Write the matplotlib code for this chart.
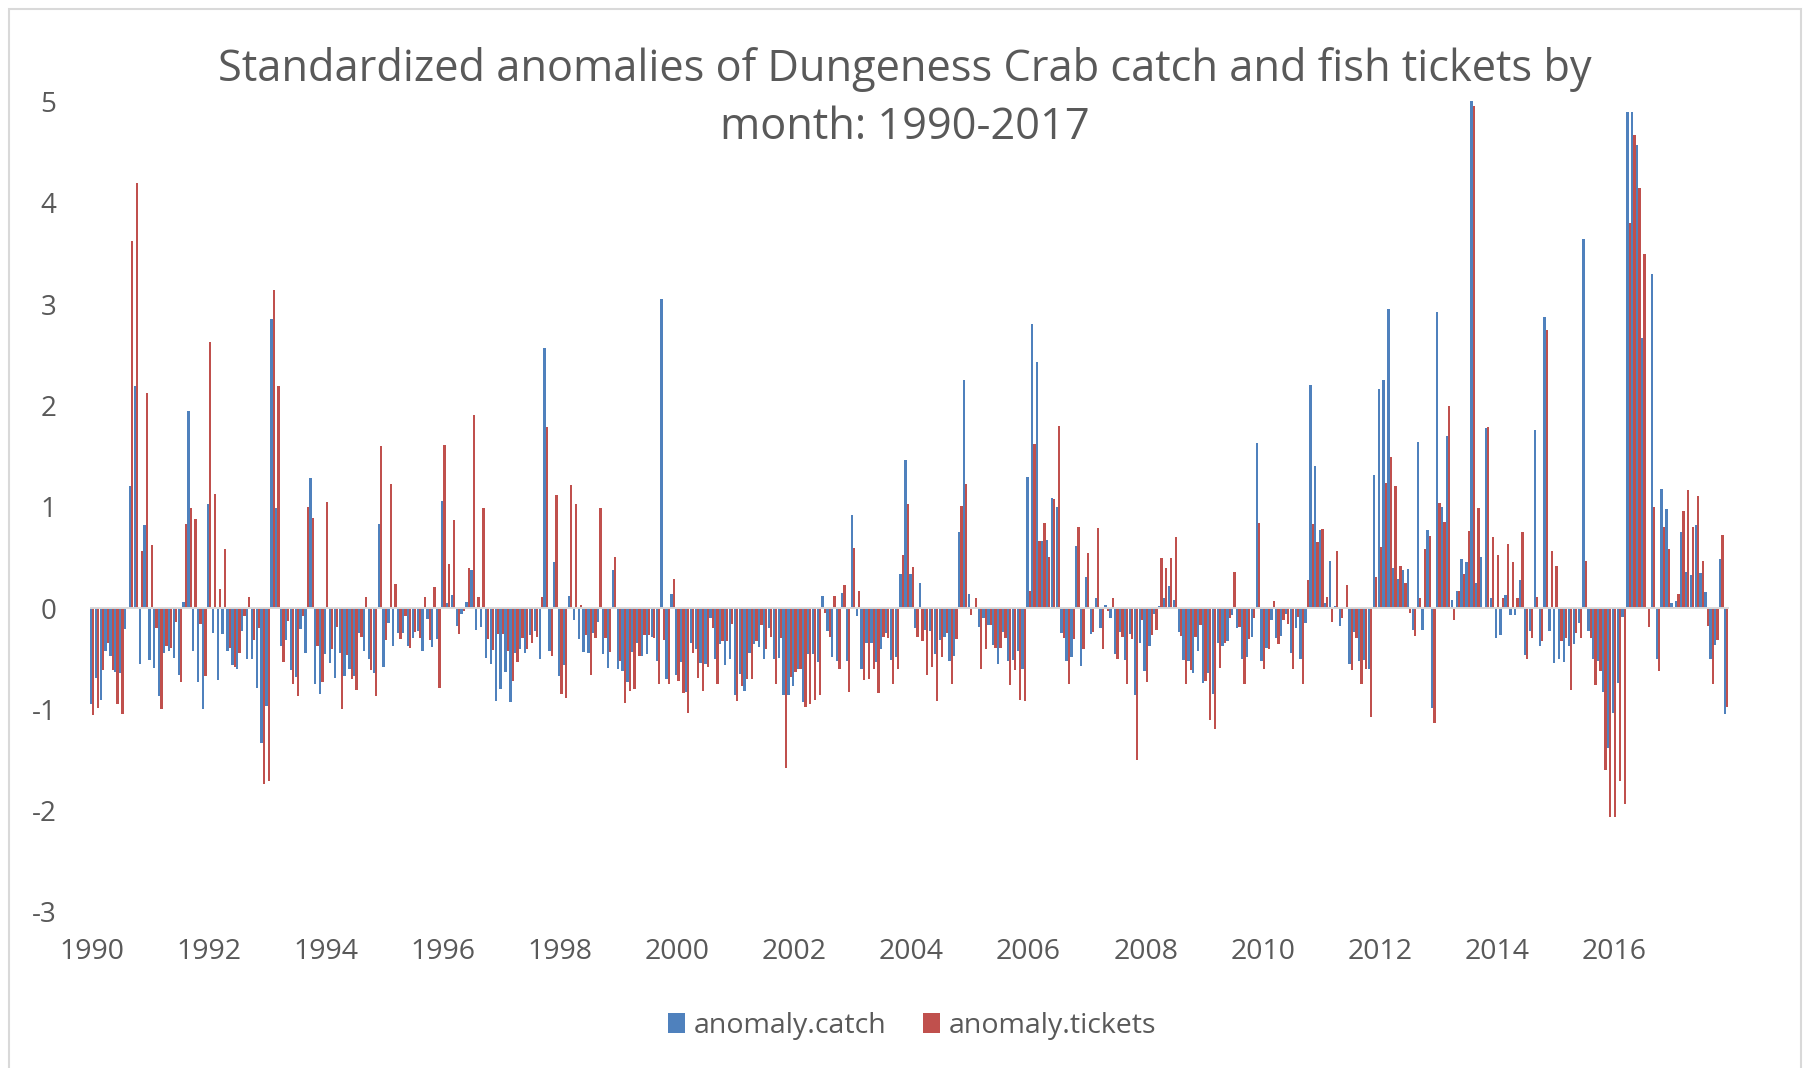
import matplotlib
matplotlib.use("Agg")
import matplotlib.pyplot as plt
from matplotlib.patches import Rectangle, Patch

# ---------------- data ----------------
years = [str(y) for y in range(1990, 2017, 2)]

catch = [
    # 1990
    -0.95, -0.69, -0.91, -0.42, -0.47, -0.63, -0.64, -0.21, 1.20, 2.19, -0.55, 0.82,
    # 1991
    -0.51, -0.59, -0.87, -0.44, -0.42, -0.49, -0.66, 0.06, 1.95, -0.42, -0.73, -1.00,
    # 1992
    1.03, -0.25, -0.71, -0.26, -0.42, -0.56, -0.60, -0.23, -0.50, -0.50, -0.79, -1.33,
    # 1993
    -0.97, 2.85, 0.99, -0.37, -0.32, -0.61, -0.68, -0.21, -0.44, 1.28, -0.75, -0.85,
    # 1994
    -0.45, -0.54, -0.69, -0.44, -0.67, -0.60, -0.67, -0.25, -0.42, -0.50, -0.64, 0.83,
    # 1995
    -0.58, -0.15, -0.37, -0.25, -0.25, -0.37, -0.30, -0.23, -0.42, -0.11, -0.38, -0.31,
    # 1996
    1.06, 0.05, 0.13, -0.18, -0.06, 0.06, 0.38, -0.22, -0.19, -0.49, -0.55, -0.92,
    # 1997
    -0.80, -0.63, -0.93, -0.44, -0.40, -0.44, -0.27, -0.23, -0.50, 2.57, -0.42, 0.45,
    # 1998
    -0.67, -0.56, 0.12, -0.12, -0.31, -0.43, -0.44, -0.25, -0.14, -0.45, -0.59, 0.38,
    # 1999
    -0.60, -0.62, -0.73, -0.43, -0.34, -0.47, -0.45, -0.29, -0.52, 3.05, -0.70, 0.14,
    # 2000
    -0.66, -0.53, -0.83, -0.34, -0.40, -0.54, -0.55, -0.10, -0.50, -0.35, -0.56, -0.50,
    # 2001
    -0.86, -0.65, -0.82, -0.44, -0.35, -0.38, -0.50, -0.20, -0.50, -0.49, -0.86, -0.86,
    # 2002
    -0.77, -0.60, -0.93, -0.45, -0.45, -0.53, 0.12, -0.23, -0.48, -0.52, 0.15, -0.52,
    # 2003
    0.92, -0.08, -0.60, -0.34, -0.34, -0.53, -0.40, -0.25, -0.51, -0.48, 0.34, 1.46,
    # 2004
    0.34, -0.20, 0.25, -0.22, -0.23, -0.45, -0.32, -0.29, -0.52, -0.47, 0.75, 2.25,
    # 2005
    0.14, 0.00, -0.19, -0.10, -0.17, -0.36, -0.55, -0.24, -0.52, -0.51, -0.42, -0.60,
    # 2006
    1.29, 2.80, 2.43, 0.66, 0.67, 1.09, 1.00, -0.25, -0.52, -0.48, 0.61, -0.57,
    # 2007
    0.31, -0.26, 0.10, -0.20, 0.03, -0.10, -0.45, -0.24, -0.51, -0.26, -0.86, -0.34,
    # 2008
    -0.62, -0.37, -0.06, 0.02, 0.10, 0.22, 0.08, -0.24, -0.51, -0.52, -0.64, -0.42,
    # 2009
    -0.74, -0.64, -0.85, -0.34, -0.37, -0.33, -0.07, -0.20, -0.50, -0.48, -0.29, 1.63,
    # 2010
    -0.52, -0.39, -0.12, -0.30, -0.28, -0.06, -0.44, -0.20, -0.50, -0.15, 2.20, 1.40,
    # 2011
    0.77, 0.05, 0.46, 0.02, -0.18, 0.00, -0.55, -0.24, -0.52, -0.51, -0.60, 1.31,
    # 2012
    2.16, 2.25, 2.95, 0.40, 0.29, 0.38, 0.39, -0.22, 1.64, -0.22, 0.77, -0.99,
    # 2013
    2.92, 1.00, 1.70, 0.08, 0.17, 0.48, 0.45, 5.02, 0.25, 0.50, 1.78, 0.10,
    # 2014
    -0.30, -0.27, 0.13, -0.07, -0.07, 0.28, -0.46, -0.23, 1.76, -0.37, 2.87, -0.23,
    # 2015
    -0.54, -0.50, -0.53, -0.37, -0.35, -0.15, 3.64, -0.23, -0.50, -0.52, -0.83, -1.38,
    # 2016
    -1.04, -0.74, -0.09, 4.90, 4.90, 4.57, 2.67, 0.01, 3.30, -0.50, 1.18, 0.98,
    # 2017
    0.05, 0.07, 0.75, 0.36, 0.33, 0.82, 0.35, 0.16, -0.50, -0.36, 0.48, -1.05,
]

tickets = [
    # 1990
    -1.06, -0.99, -0.61, -0.34, -0.61, -0.95, -1.05, 0.01, 3.62, 4.20, 0.56, 2.12,
    # 1991
    0.62, -0.20, -1.00, -0.37, -0.39, -0.14, -0.73, 0.83, 0.99, 0.88, -0.16, -0.67,
    # 1992
    2.63, 1.13, 0.19, 0.58, -0.39, -0.58, -0.44, -0.08, 0.11, -0.32, -0.20, -1.74,
    # 1993
    -1.71, 3.14, 2.19, -0.53, -0.13, -0.75, -0.87, -0.08, 1.00, 0.89, -0.37, -0.73,
    # 1994
    1.05, -0.40, -0.19, -1.00, -0.46, -0.70, -0.81, -0.29, 0.11, -0.61, -0.87, 1.60,
    # 1995
    -0.32, 1.22, 0.24, -0.31, -0.08, -0.39, -0.24, -0.30, 0.11, -0.32, 0.21, -0.79,
    # 1996
    1.61, 0.43, 0.87, -0.26, -0.03, 0.40, 1.91, 0.11, 0.99, -0.31, -0.41, -0.26,
    # 1997
    -0.26, -0.42, -0.72, -0.53, -0.30, -0.40, -0.34, -0.29, 0.11, 1.79, -0.47, 1.12,
    # 1998
    -0.85, -0.89, 1.21, 1.03, 0.03, -0.27, -0.66, -0.30, 0.99, -0.30, -0.43, 0.50,
    # 1999
    -0.52, -0.94, -0.82, -0.80, -0.47, -0.27, -0.27, -0.30, -0.75, -0.32, -0.75, 0.29,
    # 2000
    -0.72, -0.84, -1.04, -0.44, -0.69, -0.82, -0.58, -0.20, -0.75, -0.33, -0.33, -0.16,
    # 2001
    -0.92, -0.77, -0.70, -0.70, -0.33, -0.17, -0.40, -0.29, -0.75, -0.30, -1.58, -0.68,
    # 2002
    -0.63, -0.60, -0.98, -0.95, -0.91, -0.86, -0.05, -0.29, 0.12, -0.60, 0.23, -0.83,
    # 2003
    0.59, 0.17, -0.71, -0.70, -0.60, -0.84, -0.29, -0.30, -0.75, -0.60, 0.52, 1.03,
    # 2004
    0.41, -0.29, -0.33, -0.66, -0.58, -0.92, -0.48, -0.25, -0.75, -0.31, 1.01, 1.22,
    # 2005
    -0.07, 0.10, -0.60, -0.40, -0.17, -0.39, -0.39, -0.30, -0.76, -0.61, -0.91, -0.92,
    # 2006
    0.17, 1.62, 0.66, 0.84, 0.50, 1.08, 1.80, -0.30, -0.75, -0.31, 0.80, -0.40,
    # 2007
    0.54, -0.24, 0.79, -0.40, -0.03, 0.10, -0.50, -0.29, -0.75, -0.31, -1.50, -0.12,
    # 2008
    -0.73, -0.27, -0.22, 0.49, 0.40, 0.49, 0.70, -0.28, -0.75, -0.61, -0.29, -0.17,
    # 2009
    -0.72, -1.10, -1.19, -0.59, -0.34, -0.10, 0.36, -0.19, -0.75, -0.31, -0.10, 0.84,
    # 2010
    -0.60, -0.40, 0.07, -0.35, -0.12, -0.16, -0.60, -0.09, -0.75, 0.28, 0.83, 0.65,
    # 2011
    0.78, 0.11, -0.14, 0.56, -0.10, 0.23, -0.61, -0.30, -0.75, -0.60, -1.08, 0.31,
    # 2012
    0.60, 1.23, 1.49, 1.20, 0.42, 0.25, -0.05, -0.28, 0.10, 0.58, 0.71, -1.13,
    # 2013
    1.04, 0.85, 1.99, -0.12, 0.17, 0.34, 0.76, 4.96, 0.99, -0.01, 1.79, 0.70,
    # 2014
    0.52, 0.10, 0.63, 0.45, 0.10, 0.75, -0.50, -0.30, 0.11, -0.33, 2.74, 0.56,
    # 2015
    0.42, -0.33, -0.30, -0.81, -0.25, -0.30, 0.46, -0.30, -0.76, -0.62, -1.60, -2.06,
    # 2016
    -2.06, -1.71, -1.93, 3.80, 4.67, 4.15, 3.49, -0.19, 1.00, -0.62, 0.80, 0.58,
    # 2017
    0.01, 0.14, 0.96, 1.17, 0.80, 1.11, 0.46, -0.18, -0.75, -0.32, 0.72, -0.98,
]

series_names = ["anomaly.catch", "anomaly.tickets"]
title_lines = ["Standardized anomalies of Dungeness Crab catch and fish tickets by",
               "month: 1990-2017"]

# ---------------- figure ----------------
W, H, DPI = 1808, 1068, 100
fig = plt.figure(figsize=(W / DPI, H / DPI), dpi=DPI)
fig.patch.set_facecolor("white")
plt.rcParams["font.family"] = ["Open Sans", "DejaVu Sans"]

BLUE = "#4F81BD"
RED = "#C0504D"
TXT = "#595959"

n = len(catch)
x_left = 89.6
x_right = 1728.6
y_top = 101.5
y_bot = 912.0
ax = fig.add_axes([x_left / W, 1 - y_bot / H, (x_right - x_left) / W, (y_bot - y_top) / H])
ax.set_facecolor("none")

idx = list(range(n))
bw = 0.47
ax.bar([i - bw / 2 for i in idx], catch, width=bw, color=BLUE, linewidth=0, zorder=2)
ax.bar([i + bw / 2 for i in idx], tickets, width=bw, color=RED, linewidth=0, zorder=2)

ax.set_xlim(-0.5, n - 0.5)
ax.set_ylim(-3, 5)
ax.axhline(0, color="#D9D9D9", linewidth=1.4, zorder=3)

for s in ax.spines.values():
    s.set_visible(False)

ax.set_yticks(range(-3, 6))
ax.set_yticklabels([str(v) for v in range(-3, 6)])
ax.set_xticks([24 * i for i in range(len(years))])
ax.set_xticklabels(years)
ax.tick_params(axis="y", length=0, pad=24, labelsize=20, labelcolor=TXT)
ax.tick_params(axis="x", length=0, pad=19, labelsize=20.5, labelcolor=TXT)

# title
fig.text(905 / W, 1 - 69 / H, title_lines[0], ha="center", va="center",
         fontsize=31.2, color=TXT)
fig.text(905 / W, 1 - 128 / H, title_lines[1], ha="center", va="center",
         fontsize=31.2, color=TXT)

# legend
handles = [Patch(facecolor=BLUE, edgecolor="none", label=series_names[0]),
           Patch(facecolor=RED, edgecolor="none", label=series_names[1])]
fig.legend(handles=handles, loc="center", bbox_to_anchor=(912 / W, 1 - 1026 / H),
           ncol=2, frameon=False, fontsize=20.5, labelcolor=TXT,
           handlelength=0.6, handleheight=0.75, handletextpad=0.3,
           columnspacing=1.3)

# chart border
fig.add_artist(Rectangle((9 / W, -0.01), (1801 - 9) / W, 1 - 9 / H + 0.01,
                         transform=fig.transFigure, fill=False,
                         edgecolor="#D9D9D9", linewidth=1.5))

fig.savefig("out.png", dpi=DPI)
